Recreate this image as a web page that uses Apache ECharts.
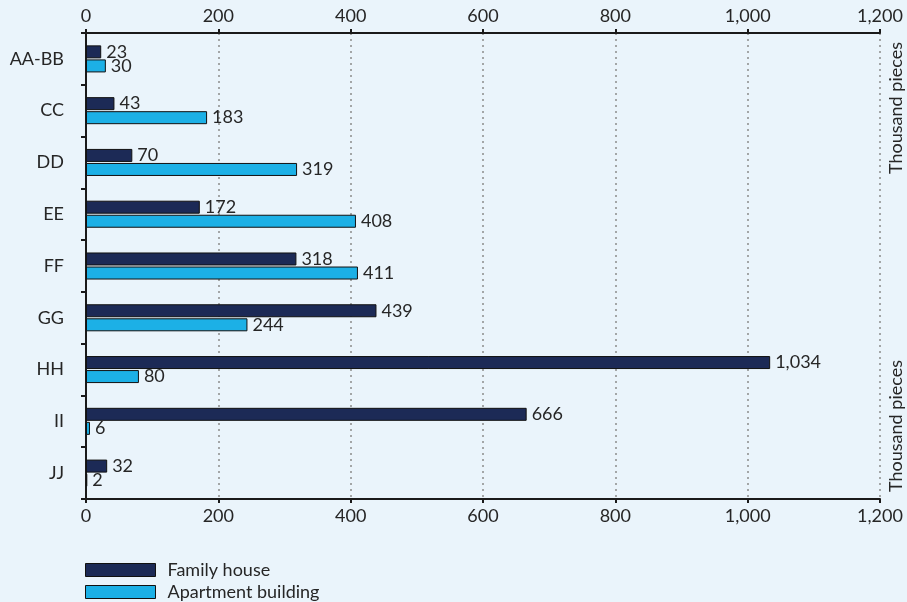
<!DOCTYPE html>
<html>
<head>
<meta charset="utf-8">
<script src="https://cdn.jsdelivr.net/npm/echarts@6/dist/echarts.min.js"></script>
<style>
  html, body { margin: 0; padding: 0; background: #eaf4fb; }
  #chart { width: 907px; height: 602px; }
</style>
</head>
<body>
<div id="chart"></div>
<script>
// Regions, top to bottom
const categories = ['AA-BB', 'CC', 'DD', 'EE', 'FF', 'GG', 'HH', 'II', 'JJ'];
// Thousand pieces
const familyHouse = [23, 43, 70, 172, 318, 439, 1034, 666, 32];
const apartmentBuilding = [30, 183, 319, 408, 411, 244, 80, 6, 2];
const seriesNames = ['Family house', 'Apartment building'];
const unitLabel = 'Thousand pieces';

const FONT = 'Lato';
const TEXT = '#262626';
const NAVY = '#1c2a56';
const CYAN = '#1cb0e6';

const fmt = v => Number(v).toLocaleString('en-US');

const chart = echarts.init(document.getElementById('chart'));

const valueAxisBase = {
  type: 'value', min: 0, max: 1200, interval: 200,
  axisLine: { show: true, lineStyle: { color: '#1a1a1a', width: 2 } },
  axisTick: { show: true, length: 4, lineStyle: { color: '#1a1a1a', width: 2 } },
  axisLabel: { color: TEXT, fontFamily: FONT, fontSize: 18, margin: 8, formatter: fmt }
};

// one legend block per series, stacked under the plot
const legendBlock = (name, color, top) => ({
  orient: 'vertical', left: 85, top: top, padding: 0,
  itemWidth: 70, itemHeight: 13,
  textStyle: { color: TEXT, fontFamily: FONT, fontSize: 18, lineHeight: 16, padding: [0, 0, 0, 7] },
  data: [{ name: name, icon: 'rect', itemStyle: { color: color, borderColor: '#111', borderWidth: 1 } }]
});

chart.setOption({
  backgroundColor: '#eaf4fb',
  textStyle: { fontFamily: FONT },
  grid: { left: 86, right: 27, top: 33, bottom: 103, containLabel: false },
  legend: [
    legendBlock(seriesNames[0], NAVY, 561),
    legendBlock(seriesNames[1], CYAN, 583)
  ],
  xAxis: [
    Object.assign({}, valueAxisBase, {
      position: 'top',
      splitLine: { show: true, lineStyle: { color: '#8c8c8c', type: [2, 4], width: 1.5 } }
    }),
    Object.assign({}, valueAxisBase, {
      position: 'bottom',
      splitLine: { show: false }
    })
  ],
  yAxis: {
    type: 'category', data: categories, inverse: true,
    axisLine: { show: true, lineStyle: { color: '#1a1a1a', width: 2 } },
    axisTick: { show: true, length: 5, alignWithLabel: false, lineStyle: { color: '#1a1a1a', width: 2 } },
    axisLabel: { color: TEXT, fontFamily: FONT, fontSize: 18, margin: 22 }
  },
  series: [
    {
      name: seriesNames[0], type: 'bar', data: familyHouse, xAxisIndex: 0,
      barWidth: 13, barGap: '8%',
      itemStyle: { color: NAVY, borderColor: '#111', borderWidth: 1 },
      label: { show: true, position: 'right', distance: 5, color: TEXT, fontFamily: FONT, fontSize: 18, formatter: p => fmt(p.value) }
    },
    {
      name: seriesNames[1], type: 'bar', data: apartmentBuilding, xAxisIndex: 0,
      barWidth: 13,
      itemStyle: { color: CYAN, borderColor: '#111', borderWidth: 1 },
      label: { show: true, position: 'right', distance: 5, color: TEXT, fontFamily: FONT, fontSize: 18, formatter: p => fmt(p.value) }
    }
  ],
  graphic: [
    { type: 'text', x: 896, y: 108, rotation: Math.PI / 2,
      style: { text: unitLabel, fill: TEXT, font: '18px ' + FONT, align: 'center', verticalAlign: 'middle' } },
    { type: 'text', x: 896, y: 426, rotation: Math.PI / 2,
      style: { text: unitLabel, fill: TEXT, font: '18px ' + FONT, align: 'center', verticalAlign: 'middle' } }
  ]
});
</script>
</body>
</html>
